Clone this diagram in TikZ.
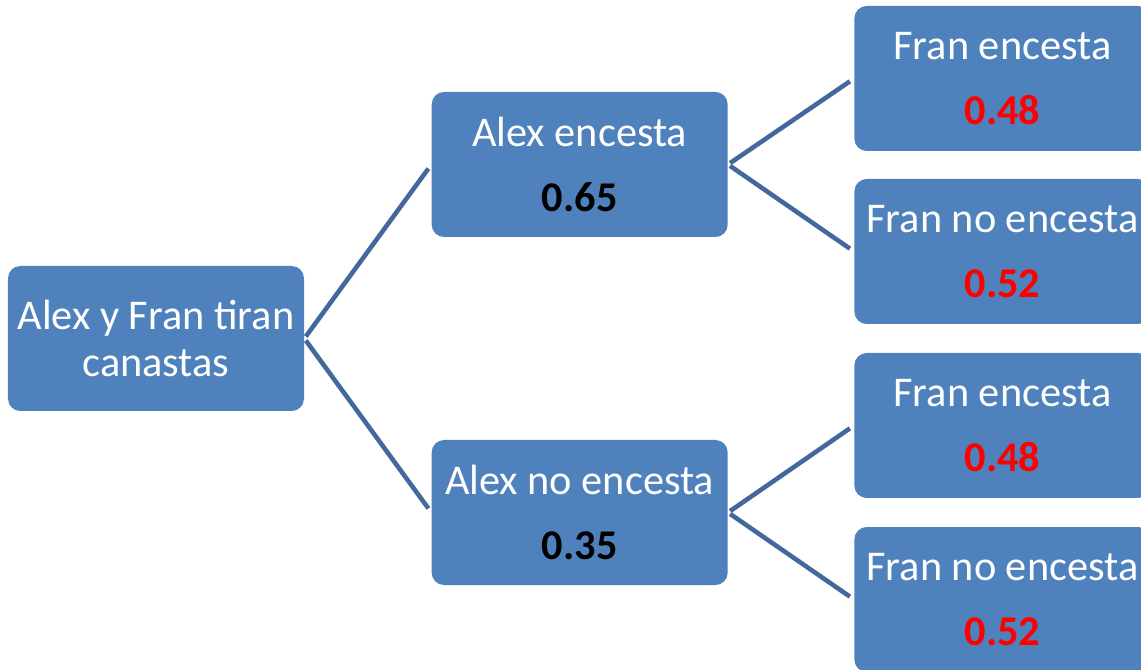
\documentclass[tikz,border=0pt]{standalone}
\usepackage{fontspec}
\setmainfont{Carlito}
\usepackage{xcolor}
\usetikzlibrary{positioning}
\definecolor{boxblue}{HTML}{4F81BD}
\definecolor{linkblue}{HTML}{43699C}
\definecolor{probred}{HTML}{FF0000}

\begin{document}
\begin{tikzpicture}[
      box/.style={fill=boxblue, rounded corners=7pt, text=white,
                  minimum width=5.92cm, minimum height=2.9cm, align=center,
                  inner sep=0pt, font=\fontsize{24.1}{26.7}\selectfont},
      link/.style={draw=linkblue, line width=2.6pt, shorten >=0.1cm, shorten <=0.05cm}]
    \clip (0,0) rectangle (22.82,-13.4);
    \node[box] (root) at (3.12,-6.77) {Alex y Fran tiran\\canastas};
    \node[box, right=2.54cm of root, yshift=3.48cm]  (a1) {Alex encesta\\[10pt]\textbf{\textcolor{black}{0.65}}};
    \node[box, right=2.54cm of root, yshift=-3.48cm] (a2) {Alex no encesta\\[10pt]\textbf{\textcolor{black}{0.35}}};
    \node[box, right=2.52cm of a1, yshift=1.72cm]  (f1) {Fran encesta\\[10pt]\textbf{\textcolor{probred}{0.48}}};
    \node[box, right=2.52cm of a1, yshift=-1.74cm] (f2) {Fran no encesta\\[10pt]\textbf{\textcolor{probred}{0.52}}};
    \node[box, right=2.52cm of a2, yshift=1.74cm]  (f3) {Fran encesta\\[10pt]\textbf{\textcolor{probred}{0.48}}};
    \node[box, right=2.52cm of a2, yshift=-1.74cm] (f4) {Fran no encesta\\[10pt]\textbf{\textcolor{probred}{0.52}}};
    \draw[link] (root.east) -- (a1.west); \draw[link] (root.east) -- (a2.west);
    \draw[link] (a1.east) -- (f1.west); \draw[link] (a1.east) -- (f2.west);
    \draw[link] (a2.east) -- (f3.west); \draw[link] (a2.east) -- (f4.west);
  \end{tikzpicture}
\end{document}
